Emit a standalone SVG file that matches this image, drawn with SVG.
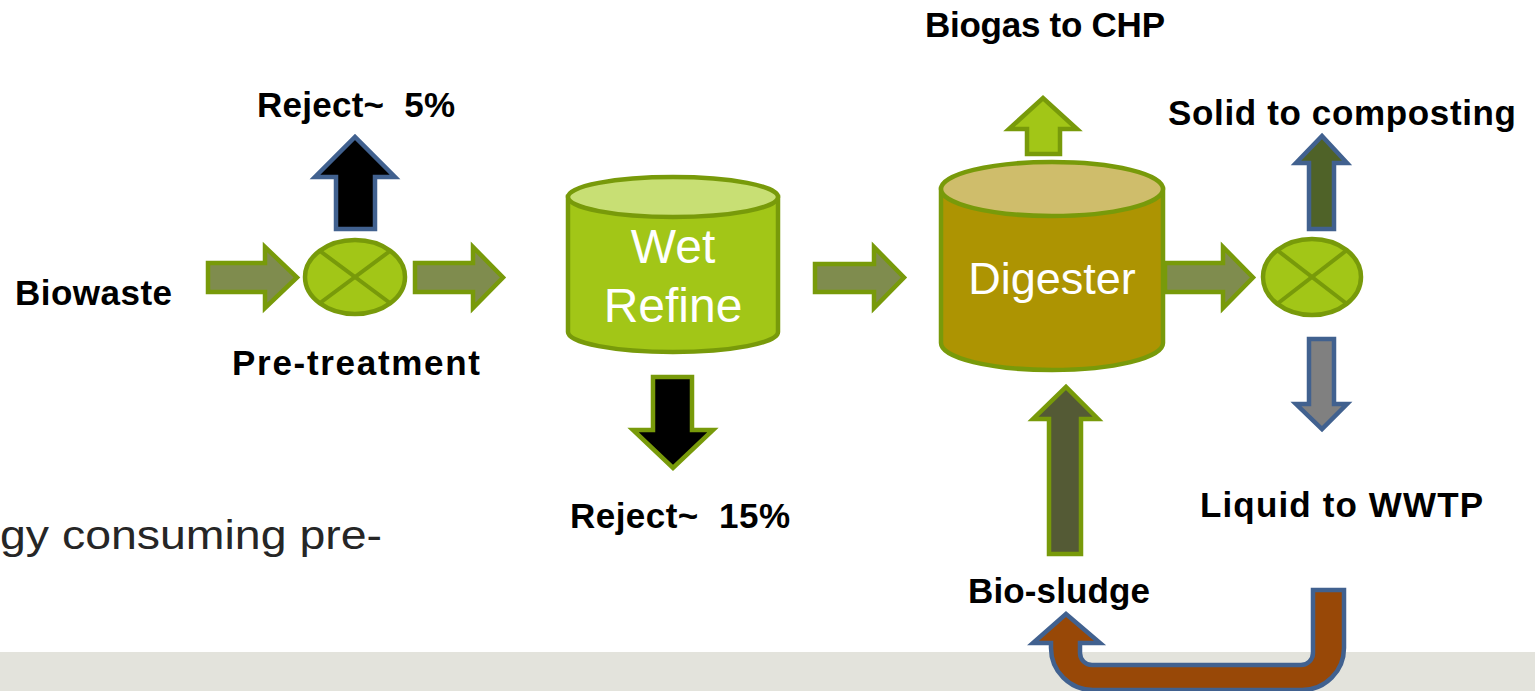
<svg xmlns="http://www.w3.org/2000/svg" width="1535" height="691" viewBox="0 0 1535 691">
<style>
.lbl{font-family:"Liberation Sans",Arial,sans-serif;font-weight:bold;font-size:35px;fill:#000;text-anchor:middle;white-space:pre}
.wt{font-family:"Liberation Sans",Arial,sans-serif;font-size:48px;fill:#fff;text-anchor:middle}
.g{stroke:#789a0a;stroke-width:4.5;stroke-linejoin:miter}
.b{stroke:#41618f;stroke-width:4.5;stroke-linejoin:miter}
.hz{fill:#7f8c4e}
.sep{fill:#a2c617;stroke:#789a0a;stroke-width:4.5}
.x{stroke:#789a0a;stroke-width:4}
</style>
<rect x="0" y="0" width="1535" height="691" fill="#ffffff"/>
<rect x="0" y="652" width="1535" height="39" fill="#e3e3dc"/>
<text x="0" y="549" font-family="'Liberation Sans',Arial,sans-serif" font-size="40" fill="#262626" textLength="382" lengthAdjust="spacingAndGlyphs">gy consuming pre-</text>

<g id="connectors">
  <polygon class="g hz" points="208,263 265,263 265,247 297,277.5 265,308 265,292 208,292"/>
  <polygon class="g hz" points="415,263 473,263 473,247 503,277.5 473,308 473,292 415,292"/>
  <polygon class="g hz" points="815,264 874,264 874,247 904,277.5 874,308 874,292 815,292"/>
  <polygon class="g hz" points="1165,263 1223,263 1223,247 1253,277.5 1223,308 1223,292 1165,292"/>
  <polygon class="b" fill="#000" points="336,229 336,177 315,177 355,137 395,177 375,177 375,229"/>
  <polygon class="g" fill="#000" points="653,377 692,377 692,430 713,430 673,468 633,430 653,430"/>
  <polygon class="g" fill="#a2c617" points="1027,154 1027,129 1009,129 1043,98 1077,129 1060,129 1060,154"/>
  <polygon class="b" fill="#4f6228" points="1309,229 1309,163 1296,163 1322,136 1347,163 1334,163 1334,229"/>
  <polygon class="b" fill="#808080" points="1309,339 1334,339 1334,404 1347,404 1322,429 1296,404 1309,404"/>
  <polygon class="g" fill="#545a35" points="1049,554 1049,419 1033,419 1066,387 1098,419 1081,419 1081,554"/>
  <path class="b" fill="#984807" d="M1313,590 L1344,590 L1344,648 A42,42 0 0 1 1302,690 L1093,690 A42,42 0 0 1 1051,648 L1051,643 L1033,643 L1066,614 L1100,643 L1080,643 L1080,653 A12,12 0 0 0 1092,665 L1301,665 A12,12 0 0 0 1313,653 Z"/>
</g>

<g id="biowaste">
  <text class="lbl" x="93.5" y="305" textLength="157">Biowaste</text>
</g>

<g id="pretreatment">
  <ellipse class="sep" cx="355" cy="277" rx="50" ry="37"/>
  <line class="x" x1="320" y1="251" x2="390" y2="303"/>
  <line class="x" x1="320" y1="303" x2="390" y2="251"/>
  <text class="lbl" x="356" y="375" textLength="248">Pre-treatment</text>
</g>

<g id="reject5">
  <text class="lbl" x="356" y="117" textLength="198">Reject~  5%</text>
</g>

<g id="wetrefine">
  <path d="M568,197 L568,332 A105,20 0 0 0 778,332 L778,197 Z" fill="#a2c617" stroke="#789a0a" stroke-width="4.5"/>
  <ellipse cx="673" cy="197" rx="105" ry="20" fill="#c8df74" stroke="#789a0a" stroke-width="4.5"/>
  <text class="wt" x="673" y="263">Wet</text>
  <text class="wt" x="673" y="322">Refine</text>
</g>

<g id="reject15">
  <text class="lbl" x="680" y="528" textLength="220">Reject~  15%</text>
</g>

<g id="digester">
  <path d="M941,189 L941,343 A111,27 0 0 0 1163,343 L1163,189 Z" fill="#ad9402" stroke="#789a0a" stroke-width="4.5"/>
  <ellipse cx="1052" cy="189" rx="111" ry="27" fill="#cfbd6b" stroke="#789a0a" stroke-width="4.5"/>
  <text class="wt" x="1052" y="294" style="font-size:45px">Digester</text>
</g>

<g id="biogas">
  <text class="lbl" x="1045" y="37" textLength="240">Biogas to CHP</text>
</g>

<g id="separator">
  <ellipse class="sep" cx="1312" cy="277" rx="49" ry="38"/>
  <line class="x" x1="1277" y1="250" x2="1347" y2="304"/>
  <line class="x" x1="1277" y1="304" x2="1347" y2="250"/>
</g>

<g id="solid">
  <text class="lbl" x="1342" y="125" textLength="348">Solid to composting</text>
</g>

<g id="liquid">
  <text class="lbl" x="1341.5" y="517" textLength="283">Liquid to WWTP</text>
</g>

<g id="biosludge">
  <text class="lbl" x="1059" y="603" textLength="182">Bio-sludge</text>
</g>
</svg>
